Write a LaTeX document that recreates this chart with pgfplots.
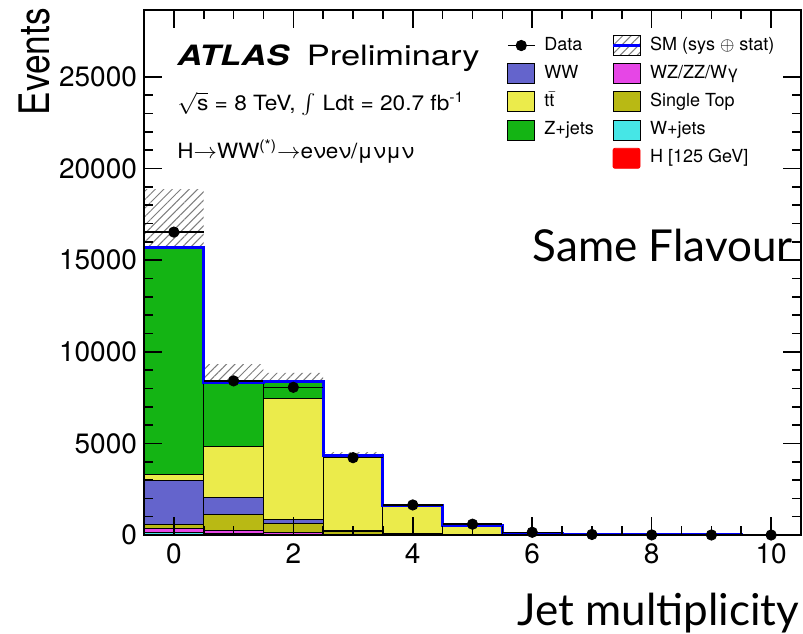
\documentclass[border=0pt]{standalone}
\usepackage{pgfplots}
\pgfplotsset{compat=1.18}
\usepackage{pgfplotstable}
\usepgfplotslibrary{fillbetween}
\usetikzlibrary{patterns,patterns.meta}
\usepackage{fontspec}
\setmainfont{TeX Gyre Heros}
\newfontfamily\gill{Lato}

\definecolor{cWW}{RGB}{100,100,204}
\definecolor{cTT}{RGB}{235,235,75}
\definecolor{cZ}{RGB}{20,180,20}
\definecolor{cWZ}{RGB}{230,70,230}
\definecolor{cST}{RGB}{185,185,20}
\definecolor{cWj}{RGB}{70,230,230}
\definecolor{cH}{RGB}{255,0,0}
\definecolor{hatch}{RGB}{125,125,125}

% background components per jet bin
\pgfplotstableread{
x  H   Wj  WZ  ST  WW   TT    Z
0  20  140 190 200 2450 280   12420
1  10  60  200 860 910  2780  3480
2  5   40  100 495 180  6640  920
3  2   15  30  150 40   4040  83
4  1   5   10  60  15   1460  39
5  0   2   3   15  5    460   10
6  0   1   1   4   1    90    3
7  0   0   0   1   0    17    0
8  0   0   0   0   0    3     0
9  0   0   0   0   0    0.5   0
10 0   0   0   0   0    0.1   0
}\bkg

% SM total and its uncertainty band, at the bin edges
\pgfplotstableread{
xe    tot    lo     hi
-0.5  15700  12520  18880
0.5   8300   7280   9320
1.5   8380   7910   8850
2.5   4360   4200   4520
3.5   1590   1530   1650
4.5   495    465    525
5.5   100    90     110
6.5   18     15     21
7.5   3      2      4
8.5   0.5    0.2    0.8
9.5   0.1    0      0.2
10.5  0.1    0      0.2
}\sm

% data
\pgfplotstableread{
x  y     ey
0  16530 129
1  8410  92
2  8060  90
3  4220  65
4  1640  40
5  590   24
6  150   12
7  30    5
8  5     2
9  1     1
10 0     0
}\data

\pgfplotsset{
  common/.style={scale only axis, width=328.5pt, height=262.5pt,
    xmin=-0.5, xmax=10.5, ymin=0, ymax=28650},
  lbox/.style={legend image code/.code={\draw[fill=#1,draw=black,line width=0.5pt](0pt,-5pt) rectangle (13.5pt,5pt);}},
}

\begin{document}
\begin{tikzpicture}
% stacked backgrounds
\begin{axis}[common, hide axis, ybar stacked, bar width=1,
  every axis plot/.append style={draw=black, line width=0.5pt}]
\addplot[fill=cH] table[x=x,y=H]{\bkg};
\addplot[fill=cWj] table[x=x,y=Wj]{\bkg};
\addplot[fill=cWZ] table[x=x,y=WZ]{\bkg};
\addplot[fill=cST] table[x=x,y=ST]{\bkg};
\addplot[fill=cWW] table[x=x,y=WW]{\bkg};
\addplot[fill=cTT] table[x=x,y=TT]{\bkg};
\addplot[fill=cZ] table[x=x,y=Z]{\bkg};
\end{axis}
% band, total, data, frame
\begin{axis}[common, axis on top,
  xtick={0,2,...,10}, minor x tick num=3,
  ytick={0,5000,...,25000}, minor y tick num=4,
  tick align=inside, major tick length=9pt, minor tick length=4.5pt,
  axis line style={line width=1pt},
  every tick/.style={black, line width=0.8pt},
  scaled y ticks=false,
  tick label style={font=\fontsize{14}{16}\selectfont},
  /pgf/number format/assume math mode=true,
  yticklabel style={/pgf/number format/.cd, fixed, set thousands separator={}},
  xticklabel style={yshift=-1pt},
  xlabel={Jet multiplicity},
  xlabel style={at={(axis description cs:0.568,0)}, anchor=base west, yshift=-45pt,
     font=\gill\fontsize{22}{26}\selectfont, inner sep=0pt},
  ylabel={\scalebox{0.84}[1]{Events}},
  ylabel style={at={(axis description cs:-0.1431,1.004)}, anchor=base east,
     font=\fontsize{21}{24}\selectfont, inner sep=0pt},
  legend columns=2,
  legend cell align=left,
  legend style={at={(axis description cs:0.552,0.955)}, anchor=north west, draw=none, fill=none,
     inner sep=0pt, row sep=2.6pt, font=\fontsize{9}{11}\selectfont,
     nodes={inner sep=1pt, text height=7pt, text depth=2.5pt},
     /tikz/every odd column/.append style={column sep=3.5pt},
     /tikz/every even column/.append style={column sep=8pt}},
]
\addplot[name path=up, draw=none, const plot mark left, forget plot] table[x=xe,y=hi]{\sm};
\addplot[name path=dn, draw=none, const plot mark left, forget plot] table[x=xe,y=lo]{\sm};
\addplot[pattern={Lines[angle=45,distance=3pt,line width=0.5pt]}, pattern color=hatch, forget plot]
   fill between[of=up and dn];
\addplot[blue, line width=1.5pt, const plot mark left, forget plot] table[x=xe,y=tot]{\sm};
\addplot[black, only marks, mark=*, mark size=2.6pt, forget plot,
   error bars/.cd, x dir=both, x fixed=0.5, y dir=both, y explicit,
   error mark=none, error bar style={line width=0.7pt, black}]
   table[x=x,y=y,y error=ey]{\data};

\addlegendimage{legend image code/.code={\draw[black,line width=0.7pt](0pt,0pt)--(13.5pt,0pt);\fill[black](6.75pt,0pt) circle (2.6pt);}}
\addlegendentry{Data}
\addlegendimage{legend image code/.code={\fill[pattern={Lines[angle=45,distance=3pt,line width=0.5pt]},pattern color=hatch](0pt,-5pt) rectangle (13.5pt,5pt);\draw[blue,line width=1.2pt](0pt,0pt)--(13.5pt,0pt);}}
\addlegendentry{SM (sys $\oplus$ stat)}
\addlegendimage{lbox=cWW}
\addlegendentry{WW}
\addlegendimage{lbox=cWZ}
\addlegendentry{WZ/ZZ/Wγ}
\addlegendimage{lbox=cTT}
\addlegendentry{t\smash{$\bar{\mbox{t}}$}}
\addlegendimage{lbox=cST}
\addlegendentry{Single Top}
\addlegendimage{lbox=cZ}
\addlegendentry{Z+jets}
\addlegendimage{lbox=cWj}
\addlegendentry{W+jets}
\addlegendimage{legend image code/.code={}}
\addlegendentry{}
\addlegendimage{legend image code/.code={\fill[cH,rounded corners=1pt](0pt,-5pt) rectangle (13.5pt,5pt);}}
\addlegendentry{H [125 GeV]}

\node[anchor=base west, inner sep=0pt, font=\fontsize{14}{16}\selectfont] at (axis description cs:0.0502,0.895)
  {\scalebox{1.23}[1]{\textbf{\textit{ATLAS}}\hspace{7pt}Preliminary}};
\node[anchor=base west, inner sep=0pt, font=\fontsize{10.5}{12}\selectfont] at (axis description cs:0.0502,0.8095)
  {\scalebox{1.08}[1]{$\sqrt{\mbox{s}}$ = 8 TeV, $\int$ Ldt = 20.7 fb\textsuperscript{-1}}};
\node[anchor=base west, inner sep=0pt, font=\fontsize{10.5}{12}\selectfont] at (axis description cs:0.0502,0.718)
  {\scalebox{1.07}[1]{H$\rightarrow$WW\textsuperscript{(*)}$\rightarrow$eνeν/μνμν}};
\node[anchor=base east, inner sep=0pt, font=\gill\fontsize{22}{26}\selectfont] at (axis description cs:0.988,0.52)
  {Same Flavour};
\end{axis}
\pgfresetboundingbox
\path (-72pt,-49pt) rectangle (329.5pt,267.5pt);
\end{tikzpicture}
\end{document}
